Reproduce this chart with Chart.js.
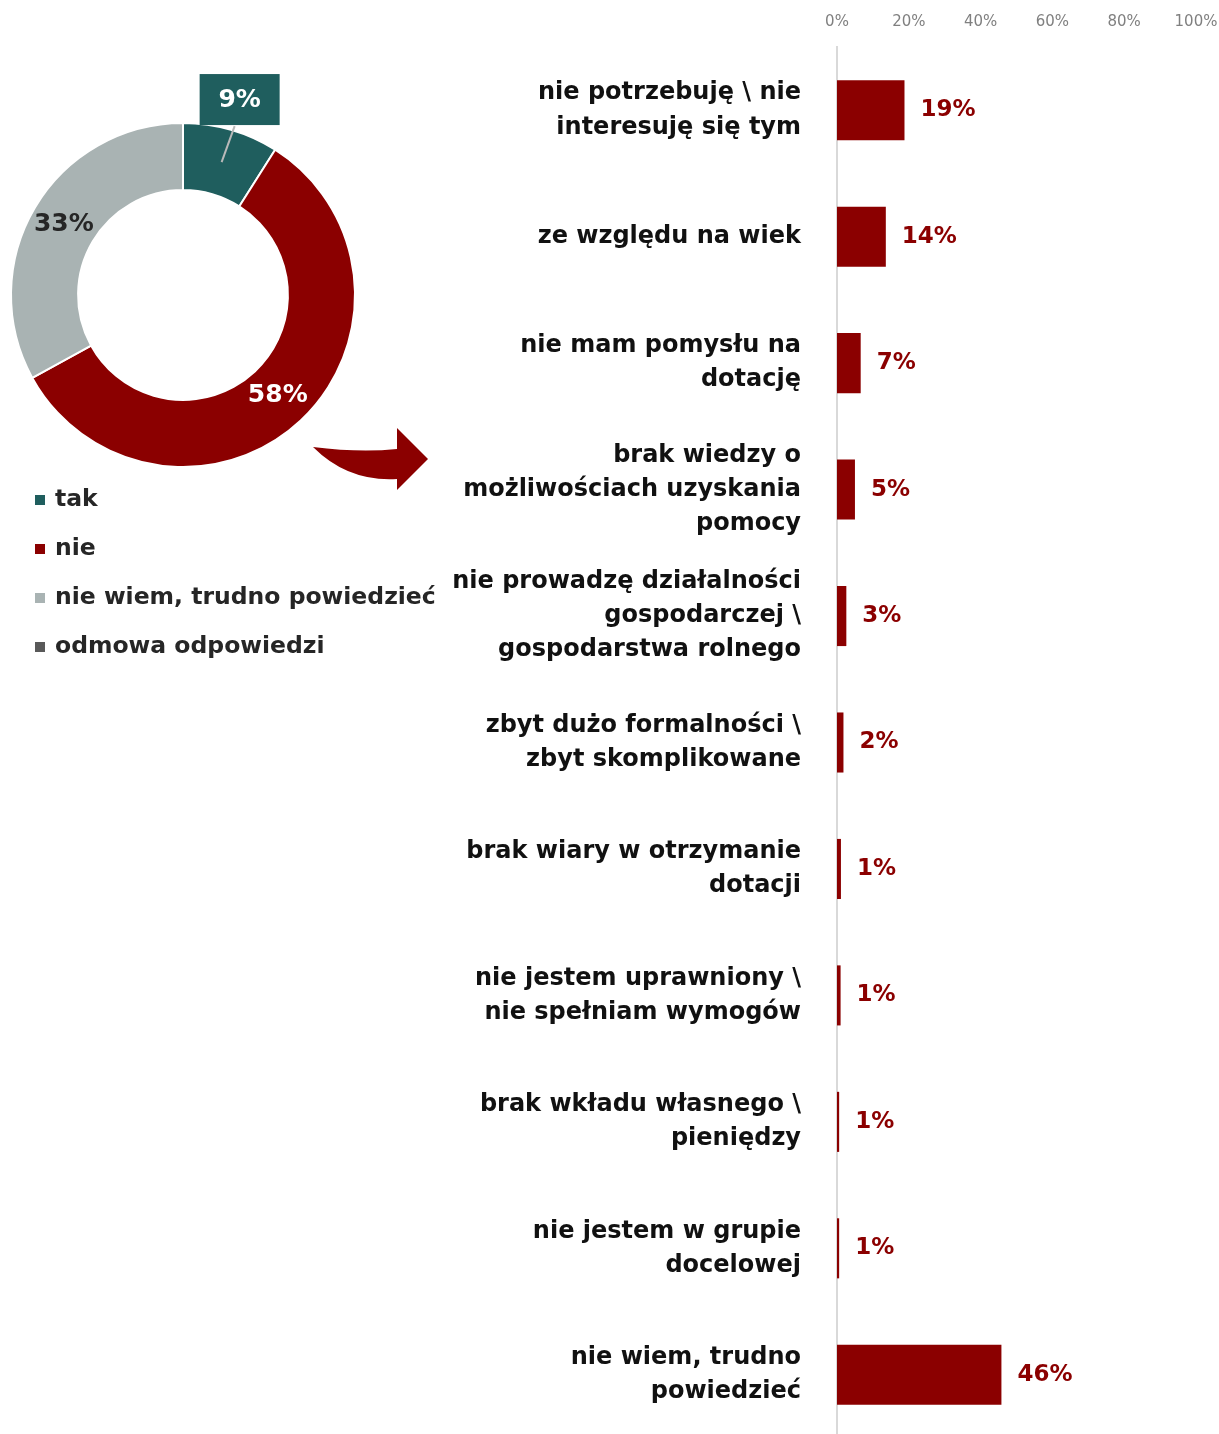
<!DOCTYPE html>
<html lang="pl">
<head>
<meta charset="utf-8">
<script src="https://cdn.jsdelivr.net/npm/chart.js@4.4.1/dist/chart.umd.min.js"></script>
<style>
  body { margin: 0; background: #fff; }
  #wrap { position: relative; width: 1219px; height: 1434px; overflow: hidden; }
  #donut { position: absolute; left: 0; top: 0; }
  #bars { position: absolute; left: 440px; top: 0; }
</style>
</head>
<body>
<div id="wrap">
  <canvas id="donut" width="440" height="700"></canvas>
  <canvas id="bars" width="779" height="1438"></canvas>
</div>
<script>
// donut: czy korzystał z dotacji
const answerLabels = ['tak', 'nie', 'nie wiem, trudno powiedzieć', 'odmowa odpowiedzi'];
const answerValues = [9, 58, 33, 0];
const answerColors = ['#1f5e5e', '#8b0000', '#a9b3b3', '#595959'];

// bars: powody (odpowiedzi "nie")
const reasonLabels = [
    ['nie potrzebuję \\ nie', 'interesuję się tym'],
    'ze względu na wiek',
    ['nie mam pomysłu na', 'dotację'],
    ['brak wiedzy o', 'możliwościach uzyskania', 'pomocy'],
    ['nie prowadzę działalności', 'gospodarczej \\', 'gospodarstwa rolnego'],
    ['zbyt dużo formalności \\', 'zbyt skomplikowane'],
    ['brak wiary w otrzymanie', 'dotacji'],
    ['nie jestem uprawniony \\', 'nie spełniam wymogów'],
    ['brak wkładu własnego \\', 'pieniędzy'],
    ['nie jestem w grupie', 'docelowej'],
    ['nie wiem, trudno', 'powiedzieć']
];
const reasonValues = [18.8, 13.6, 6.6, 5.0, 2.6, 1.8, 1.1, 1.0, 0.6, 0.6, 45.8];
const xTicks = [0, 20, 40, 60, 80, 100];

const RED = '#8b0000';
Chart.defaults.font.family = '"DejaVu Sans", sans-serif';

const donutExtras = {
    id: 'donutExtras',
    afterDatasetsDraw(chart) {
        const ctx = chart.ctx;
        const meta = chart.getDatasetMeta(0);
        ctx.save();
        ctx.font = 'bold 25px "DejaVu Sans"';
        ctx.textAlign = 'center';
        ctx.textBaseline = 'middle';
        meta.data.forEach((arc, i) => {
            const v = answerValues[i];
            if (!v) return;
            const p = arc.tooltipPosition();
            if (v < 15) {
                // small slice: label in a box outside with a leader line
                const mid = (arc.startAngle + arc.endAngle) / 2;
                const r = arc.outerRadius + 31;
                const bx = arc.x + Math.cos(mid) * r;
                const by = arc.y + Math.sin(mid) * r;
                ctx.strokeStyle = '#b9b9b9';
                ctx.lineWidth = 2;
                ctx.beginPath();
                ctx.moveTo(p.x, p.y);
                ctx.lineTo(bx - 5, by + 26);
                ctx.stroke();
                ctx.fillStyle = answerColors[i];
                ctx.fillRect(bx - 40, by - 26, 80, 51);
                ctx.fillStyle = '#fff';
                ctx.fillText(v + '%', bx, by);
            } else {
                ctx.fillStyle = i === 1 ? '#fff' : '#262626';
                ctx.fillText(v + '%', p.x, p.y);
            }
        });
        ctx.restore();
    },
    afterDraw(chart) {
        const ctx = chart.ctx;
        ctx.save();
        // legend
        ctx.font = 'bold 23.5px "DejaVu Sans"';
        ctx.textBaseline = 'middle';
        ctx.textAlign = 'left';
        answerLabels.forEach((lab, i) => {
            const y = 500 + i * 49;
            ctx.fillStyle = answerColors[i];
            ctx.fillRect(35, y - 5, 10, 10);
            ctx.fillStyle = '#262626';
            ctx.fillText(lab, 55, y);
        });
        // arrow pointing to the bar chart
        ctx.fillStyle = RED;
        ctx.beginPath();
        ctx.moveTo(313, 447);
        ctx.quadraticCurveTo(360, 453, 397, 449);
        ctx.lineTo(397, 428);
        ctx.lineTo(428, 459);
        ctx.lineTo(397, 490);
        ctx.lineTo(397, 479);
        ctx.quadraticCurveTo(348, 482, 313, 447);
        ctx.fill();
        ctx.restore();
    }
};

new Chart(document.getElementById('donut'), {
    type: 'doughnut',
    data: {
        labels: answerLabels,
        datasets: [{
            data: answerValues,
            backgroundColor: answerColors,
            borderColor: '#fff',
            borderWidth: 2
        }]
    },
    options: {
        responsive: false,
        animation: false,
        cutout: '61%',
        layout: { padding: { left: 10, top: 122, right: 84, bottom: 232 } },
        plugins: { legend: { display: false }, tooltip: { enabled: false } }
    },
    plugins: [donutExtras]
});

const valueLabels = {
    id: 'valueLabels',
    afterDatasetsDraw(chart) {
        const ctx = chart.ctx;
        ctx.save();
        ctx.font = 'bold 23px "DejaVu Sans"';
        ctx.fillStyle = RED;
        ctx.textAlign = 'left';
        ctx.textBaseline = 'middle';
        chart.getDatasetMeta(0).data.forEach((bar, i) => {
            ctx.fillText(Math.round(reasonValues[i]) + '%', bar.x + 16, bar.y);
        });
        ctx.restore();
    }
};

new Chart(document.getElementById('bars'), {
    type: 'bar',
    data: {
        labels: reasonLabels,
        datasets: [{
            data: reasonValues,
            backgroundColor: RED,
            barPercentage: 0.475,
            categoryPercentage: 1
        }]
    },
    options: {
        indexAxis: 'y',
        responsive: false,
        animation: false,
        layout: { padding: { right: 23 } },
        plugins: { legend: { display: false }, tooltip: { enabled: false } },
        scales: {
            x: {
                position: 'top',
                min: 0,
                max: 100,
                grid: { display: false, drawTicks: false },
                border: { display: false },
                ticks: { color: '#808080', font: { size: 15 }, padding: 16, callback: v => v + '%' },
                afterBuildTicks: s => { s.ticks = xTicks.map(v => ({ value: v })); },
                afterFit: s => {
                    s.height = 47;
                    s.paddingLeft = 0;
                    s.paddingRight = 0;
                }
            },
            y: {
                grid: { display: false, drawTicks: false },
                border: { display: true, color: '#d9d9d9', width: 2 },
                ticks: {
                    color: '#111',
                    autoSkip: false,
                    padding: 36,
                    font: { size: 24, weight: 'bold', lineHeight: 1.42 }
                },
                afterFit: s => {
                    s.width = 397;
                    s.paddingTop = 0;
                    s.paddingBottom = 0;
                }
            }
        }
    },
    plugins: [valueLabels]
});
</script>
</body>
</html>
